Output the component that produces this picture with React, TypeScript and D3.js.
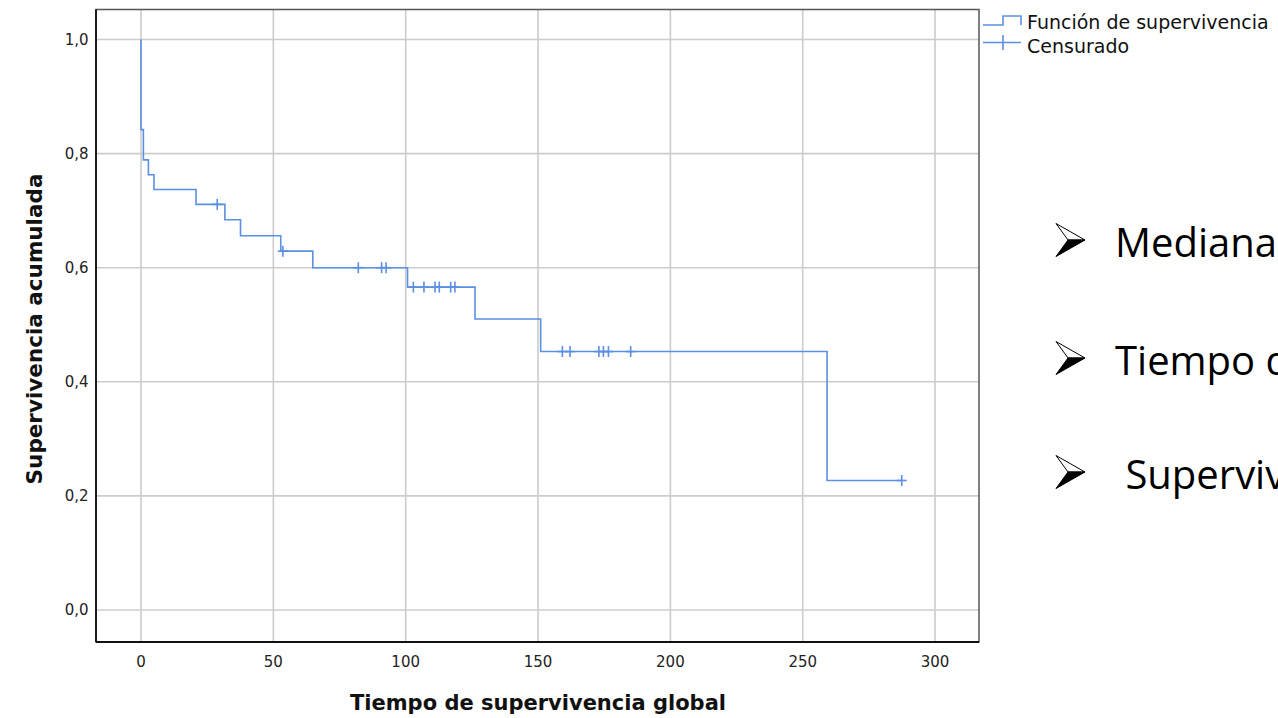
import React from "react";
import * as d3 from "d3";

// ---- data ----
const eventTimes = [0, 0.9, 2.8, 4.9, 20.8, 31.7, 37.6, 52.8, 64.9, 100.7, 126.2, 151, 259.2];
const survivalAfter = [0.842, 0.789, 0.763, 0.737, 0.711, 0.684, 0.656, 0.629, 0.6, 0.566, 0.51, 0.453, 0.227];
const censorTimes = [28.8, 53.6, 82.1, 90.9, 92.6, 102.9, 106.9, 111.1, 112.7, 117, 118.6, 159.2, 162.1, 173, 174.7, 176.6, 185, 287.4];
const xTicks = [0, 50, 100, 150, 200, 250, 300];
const yTicks = [0, 0.2, 0.4, 0.6, 0.8, 1.0];
const legendLabels = ["Función de supervivencia", "Censurado"];
const bulletTexts = ["Mediana", "Tiempo de", " Supervivencia"];
const xTitle = "Tiempo de supervivencia global";
const yTitle = "Supervivencia acumulada";

const W = 1278;
const H = 718;
const plot = { left: 96, right: 979, top: 9.5, bottom: 642 };
const lineColor = "#5b8fe2";
const gridColor = "#cccccc";

export default function App() {
  const x = d3.scaleLinear().domain([-17, 316.6]).range([plot.left, plot.right]);
  const y = d3.scaleLinear().domain([-0.0561, 1.0526]).range([plot.bottom, plot.top]);

  const survAt = (t: number) => {
    const i = d3.bisectRight(eventTimes, t) - 1;
    return i < 0 ? 1 : survivalAfter[i];
  };

  const pts: [number, number][] = [[0, 1]];
  eventTimes.forEach((t, i) => pts.push([t, survivalAfter[i]]));
  const lastT = d3.max(censorTimes) as number;
  pts.push([lastT, survAt(lastT)]);

  const line = d3
    .line<[number, number]>()
    .x((d) => x(d[0]))
    .y((d) => y(d[1]))
    .curve(d3.curveStepAfter);

  const fmt = (v: number) => d3.format(".1f")(v).replace(".", ",");
  const tickFont = "'DejaVu Sans', sans-serif";

  const arrow = (cy: number, key: number) => {
    const lx = 1056, tx = 1085, nx = 1068;
    return (
      <g key={key}>
        <path d={`M${lx},${cy - 16.5} L${tx},${cy} L${nx},${cy} Z`} fill="#fff" stroke="#000" strokeWidth={1} strokeLinejoin="miter" />
        <path d={`M${nx},${cy} L${tx},${cy} L${lx},${cy + 16.5} Z`} fill="#000" stroke="#000" strokeWidth={1} />
      </g>
    );
  };

  const bulletBase = [257, 375, 489];
  const arrowCenters = [240, 358, 472];

  return (
    <svg
      width={W}
      height={H}
      style={{ position: "absolute", left: 0, top: 0, background: "#fff" }}
      overflow="hidden"
    >
      <rect x={0} y={0} width={W} height={H} fill="#fff" />
      {/* grid */}
      {xTicks.map((t) => (
        <line key={"gx" + t} x1={x(t)} x2={x(t)} y1={plot.top} y2={plot.bottom} stroke={gridColor} strokeWidth={1.6} />
      ))}
      {yTicks.map((t) => (
        <line key={"gy" + t} x1={plot.left} x2={plot.right} y1={y(t)} y2={y(t)} stroke={gridColor} strokeWidth={1.6} />
      ))}
      {/* frame */}
      <rect x={plot.left} y={plot.top} width={plot.right - plot.left} height={plot.bottom - plot.top} fill="none" stroke="#555" strokeWidth={1.5} />
      <line x1={plot.left} x2={plot.left} y1={plot.top} y2={plot.bottom} stroke="#111" strokeWidth={1.8} />
      <line x1={plot.left} x2={plot.right} y1={plot.bottom} y2={plot.bottom} stroke="#111" strokeWidth={1.8} />

      {/* tick labels */}
      {xTicks.map((t) => (
        <text key={"tx" + t} x={x(t)} y={667} textAnchor="middle" fontFamily={tickFont} fontSize={15} fill="#222">
          {t}
        </text>
      ))}
      {yTicks.map((t) => (
        <text key={"ty" + t} x={88.5} y={y(t) + 5.5} textAnchor="end" fontFamily={tickFont} fontSize={15} fill="#222">
          {fmt(t)}
        </text>
      ))}

      {/* axis titles */}
      <text x={538} y={710} textAnchor="middle" fontFamily={tickFont} fontWeight="bold" fontSize={21} fill="#111">
        {xTitle}
      </text>
      <text
        transform={`translate(41.5,329) rotate(-90)`}
        textAnchor="middle"
        fontFamily={tickFont}
        fontWeight="bold"
        fontSize={21.5}
        fill="#111"
      >
        {yTitle}
      </text>

      {/* survival curve */}
      <path d={line(pts) || ""} fill="none" stroke={lineColor} strokeWidth={1.6} />
      {censorTimes.map((t, i) => {
        const cx = x(t), cy = y(survAt(t));
        return (
          <g key={"c" + i} stroke={lineColor} strokeWidth={1.6}>
            <line x1={cx} x2={cx} y1={cy - 5.5} y2={cy + 5.5} />
            <line x1={cx - 5} x2={cx + 5} y1={cy} y2={cy} />
          </g>
        );
      })}

      {/* legend */}
      <path d="M983,25 L1003,25 L1003,16 L1021,16 L1021,25" fill="none" stroke={lineColor} strokeWidth={1.6} />
      <line x1={983} x2={1021} y1={42.5} y2={42.5} stroke={lineColor} strokeWidth={1.6} />
      <line x1={1003} x2={1003} y1={35} y2={50} stroke={lineColor} strokeWidth={1.6} />
      <text x={1027} y={29} fontFamily={tickFont} fontSize={19} fill="#111">
        {legendLabels[0]}
      </text>
      <text x={1027} y={53} fontFamily={tickFont} fontSize={19} fill="#111">
        {legendLabels[1]}
      </text>

      {/* right-side bullets */}
      {arrowCenters.map((c, i) => arrow(c, i))}
      {bulletTexts.map((s, i) => (
        <text key={"b" + i} x={1115} y={bulletBase[i]} fontFamily="'Open Sans', sans-serif" fontSize={40} fill="#000" xmlSpace="preserve" style={{ whiteSpace: "pre" }}>
          {s}
        </text>
      ))}
    </svg>
  );
}
